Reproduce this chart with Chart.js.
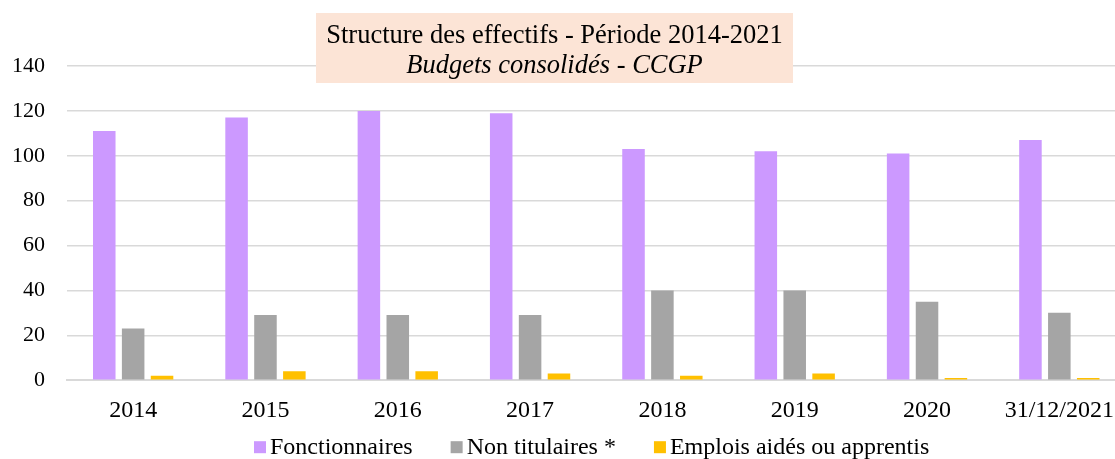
<!DOCTYPE html>
<html>
<head>
<meta charset="utf-8">
<script src="https://cdn.jsdelivr.net/npm/chart.js@4.4.0/dist/chart.umd.min.js"></script>
<style>
  html, body { margin: 0; padding: 0; background: #fff; overflow: hidden; }
  #wrap { width: 1130px; height: 459px; position: relative; }
</style>
</head>
<body>
<div id="wrap"><canvas id="effectifs"></canvas></div>
<script>
const categories = ["2014", "2015", "2016", "2017", "2018", "2019", "2020", "31/12/2021"];
const fonctionnaires = [111, 117, 120, 119, 103, 102, 101, 107];
const nonTitulaires = [23, 29, 29, 29, 40, 40, 35, 30];
const emploisAides = [2, 4, 4, 3, 2, 3, 1, 1];
const yTicks = [0, 20, 40, 60, 80, 100, 120, 140];

const serif = '"Liberation Serif", "Times New Roman", serif';

// peach title box drawn over the plot, like the Excel chart
const titleBox = {
    id: "titleBox",
    afterDraw(chart) {
        const ctx = chart.ctx;
        ctx.save();
        ctx.fillStyle = "#FCE4D6";
        ctx.fillRect(316, 13, 477, 70);
        ctx.fillStyle = "#000";
        ctx.textAlign = "center";
        ctx.textBaseline = "alphabetic";
        ctx.font = "26.5px " + serif;
        ctx.fillText("Structure des effectifs - Période 2014-2021", 554.5, 43);
        ctx.font = "italic 26.5px " + serif;
        ctx.fillText("Budgets consolidés - CCGP", 554.5, 73);
        ctx.restore();
    }
};

// Excel-style legend: small squares, tight gap before the text
const bottomLegend = {
    id: "bottomLegend",
    afterDraw(chart) {
        const ctx = chart.ctx;
        ctx.save();
        ctx.font = "24px " + serif;
        ctx.textBaseline = "middle";
        ctx.textAlign = "left";
        let x = 254;
        const y = chart.chartArea.bottom + 67;
        chart.data.datasets.forEach(ds => {
            ctx.fillStyle = ds.backgroundColor;
            ctx.fillRect(x, y - 6, 12, 12);
            ctx.fillStyle = "#000";
            ctx.fillText(ds.label, x + 16, y + 1);
            x += 16 + ctx.measureText(ds.label).width + 38;
        });
        ctx.restore();
    }
};

const barOpts = { categoryPercentage: 0.655, barPercentage: 0.78, borderWidth: 0 };

new Chart(document.getElementById("effectifs"), {
    type: "bar",
    data: {
        labels: categories,
        datasets: [
            { label: "Fonctionnaires", data: fonctionnaires, backgroundColor: "#CC99FF", ...barOpts },
            { label: "Non titulaires *", data: nonTitulaires, backgroundColor: "#A5A5A5", ...barOpts },
            { label: "Emplois aidés ou apprentis", data: emploisAides, backgroundColor: "#FFC000", ...barOpts }
        ]
    },
    options: {
        responsive: true,
        maintainAspectRatio: false,
        animation: false,
        layout: { padding: { top: 66, left: 12, right: 0, bottom: 18 } },
        plugins: {
            legend: { display: false },
            tooltip: { enabled: false }
        },
        scales: {
            x: {
                grid: { display: false, drawTicks: false },
                border: { color: "#D9D9D9", width: 2 },
                ticks: { color: "#000", font: { family: serif, size: 24 }, padding: 16, maxRotation: 0 }
            },
            y: {
                min: 0,
                max: 140,
                afterBuildTicks: axis => { axis.ticks = yTicks.map(v => ({ value: v })); },
                afterFit: axis => { axis.width = 55; },
                grid: { color: "#D9D9D9", lineWidth: 1.5, drawTicks: false },
                border: { display: false },
                ticks: { color: "#000", font: { family: serif, size: 22 }, padding: 22 }
            }
        }
    },
    plugins: [titleBox, bottomLegend]
});
</script>
</body>
</html>
